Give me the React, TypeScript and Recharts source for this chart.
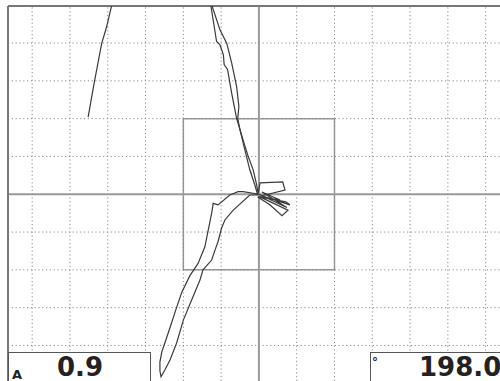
import { ScatterChart, Scatter, XAxis, YAxis, ReferenceLine, ReferenceArea } from "recharts";

// screen units: one grid division = 1
const X_DOMAIN = [-6.64, 6.38];
const Y_DOMAIN = [-4.94, 4.98];
const X_TICKS = [-6, -5, -4, -3, -2, -1, 1, 2, 3, 4, 5, 6];
const Y_TICKS = [-4, -3, -2, -1, 1, 2, 3, 4];

const READ_A = "0.9";
const READ_PHASE = "198.0";

// short trace, upper left
const LEFT_TRACE = [
  { x: -4.52, y: 2.04 }, { x: -4.44, y: 2.49 }, { x: -4.36, y: 2.94 }, { x: -4.26, y: 3.47 },
  { x: -4.16, y: 3.99 }, { x: -4.03, y: 4.43 }, { x: -3.9, y: 4.98 },
];

// main signal, coming down from the top to the balance point
const TRACE_DOWN = [
  { x: -1.27, y: 4.98 }, { x: -1.12, y: 4.04 }, { x: -1.03, y: 3.95 }, { x: -0.94, y: 3.69 },
  { x: -0.92, y: 3.43 }, { x: -0.83, y: 3.3 }, { x: -0.72, y: 2.67 }, { x: -0.59, y: 2.01 },
  { x: -0.42, y: 1.44 }, { x: -0.28, y: 0.99 }, { x: -0.15, y: 0.64 }, { x: -0.06, y: 0.25 },
  { x: -0.02, y: 0.03 },
];

// noise around the balance point
const CLUSTER = [
  { x: -0.02, y: 0.03 }, { x: 0.03, y: 0.3 }, { x: 0.63, y: 0.33 }, { x: 0.69, y: 0.11 },
  { x: 0.08, y: -0.04 }, { x: 0.82, y: -0.28 }, { x: 0.71, y: -0.2 }, { x: 0.03, y: -0.07 },
  { x: 0.77, y: -0.42 }, { x: 0.61, y: -0.57 }, { x: 0.29, y: -0.28 }, { x: -0.03, y: -0.07 },
  { x: 0.56, y: -0.15 }, { x: 0.08, y: 0.06 }, { x: 0.74, y: -0.35 }, { x: 0.0, y: 0.0 },
];

// loop going down to the lower left and back
const LOOP = [
  { x: 0.0, y: 0.0 }, { x: -0.42, y: 0.07 }, { x: -0.55, y: 0.07 }, { x: -0.77, y: -0.02 },
  { x: -1.08, y: -0.28 }, { x: -1.21, y: -0.24 }, { x: -1.25, y: -0.5 }, { x: -1.34, y: -0.94 },
  { x: -1.43, y: -1.39 }, { x: -1.61, y: -1.83 }, { x: -1.83, y: -2.16 }, { x: -2.04, y: -2.59 },
  { x: -2.2, y: -3.06 }, { x: -2.33, y: -3.46 }, { x: -2.46, y: -3.85 }, { x: -2.57, y: -4.17 },
  { x: -2.62, y: -4.44 }, { x: -2.62, y: -4.67 }, { x: -2.59, y: -4.83 }, { x: -2.49, y: -4.65 },
  { x: -2.35, y: -4.38 }, { x: -2.18, y: -3.94 }, { x: -2.0, y: -3.33 }, { x: -1.78, y: -2.8 },
  { x: -1.56, y: -2.27 }, { x: -1.48, y: -2.0 }, { x: -1.25, y: -1.74 }, { x: -1.16, y: -1.47 },
  { x: -1.08, y: -1.25 }, { x: -0.99, y: -0.9 }, { x: -0.9, y: -0.68 }, { x: -0.68, y: -0.42 },
  { x: -0.24, y: -0.02 }, { x: -0.03, y: -0.02 },
];

// return path back up to the top
const TRACE_UP = [
  { x: -0.03, y: -0.02 }, { x: -0.11, y: 0.25 }, { x: -0.24, y: 0.64 }, { x: -0.2, y: 0.55 },
  { x: -0.24, y: 0.64 }, { x: -0.37, y: 1.17 }, { x: -0.5, y: 1.7 }, { x: -0.56, y: 2.01 },
  { x: -0.53, y: 2.32 }, { x: -0.59, y: 2.85 }, { x: -0.72, y: 3.47 }, { x: -0.85, y: 3.99 },
  { x: -1.03, y: 4.35 }, { x: -1.24, y: 4.98 },
];

const TRACES = [LEFT_TRACE, TRACE_DOWN, CLUSTER, LOOP, TRACE_UP];

const noDot = () => <g />;

const DOTS = "1.2 2.6";

const readBox = {
  position: "absolute" as const,
  top: 352,
  height: 32,
  background: "#fff",
  border: "1.5px solid #555",
  boxSizing: "border-box" as const,
  fontFamily: "DejaVu Sans, sans-serif",
  fontWeight: 700,
  color: "#222",
  whiteSpace: "nowrap" as const,
};

export default function App() {
  return (
    <div style={{ position: "absolute", left: 0, top: 0, width: 500, height: 381, overflow: "hidden", background: "#fff" }}>
      <ScatterChart width={500} height={381} margin={{ top: 6, right: 0, bottom: 0, left: 8 }}>
        <XAxis
          type="number"
          dataKey="x"
          domain={X_DOMAIN}
          allowDataOverflow
          height={0}
          tick={false}
          tickLine={false}
          axisLine={false}
        />
        <YAxis
          type="number"
          dataKey="y"
          domain={Y_DOMAIN}
          allowDataOverflow
          width={0}
          tick={false}
          tickLine={false}
          axisLine={false}
        />
        {X_TICKS.map(t => (
          <ReferenceLine key={"gx" + t} x={t} stroke="#8a8a8a" strokeDasharray={DOTS} />
        ))}
        {Y_TICKS.map(t => (
          <ReferenceLine key={"gy" + t} y={t} stroke="#8a8a8a" strokeDasharray={DOTS} />
        ))}
        <ReferenceArea x1={-2} x2={2} y1={-2} y2={2} fill="none" stroke="#999" strokeWidth={1.5} />
        <ReferenceLine x={0} stroke="#999" strokeWidth={2} />
        <ReferenceLine y={0} stroke="#999" strokeWidth={2} />
        <ReferenceLine x={X_DOMAIN[0]} stroke="#777" strokeWidth={2} />
        <ReferenceLine y={Y_DOMAIN[1]} stroke="#777" strokeWidth={2} />
        {TRACES.map((t, i) => (
          <Scatter
            key={i}
            data={t}
            line={{ stroke: "#3a3a3a", strokeWidth: 1.2 }}
            lineType="joint"
            shape={noDot}
            isAnimationActive={false}
          />
        ))}
      </ScatterChart>
      <div style={{ ...readBox, left: 8, width: 143 }}>
        <span style={{ position: "absolute", left: 3, top: 14, fontSize: 13 }}>A</span>
        <span style={{ position: "absolute", left: 48, top: -1, fontSize: 26 }}>{READ_A}</span>
      </div>
      <div style={{ ...readBox, left: 370, width: 140 }}>
        <span style={{ position: "absolute", left: 1, top: 2, fontSize: 12 }}>°</span>
        <span style={{ position: "absolute", left: 48, top: -1, fontSize: 26 }}>{READ_PHASE}</span>
      </div>
    </div>
  );
}
